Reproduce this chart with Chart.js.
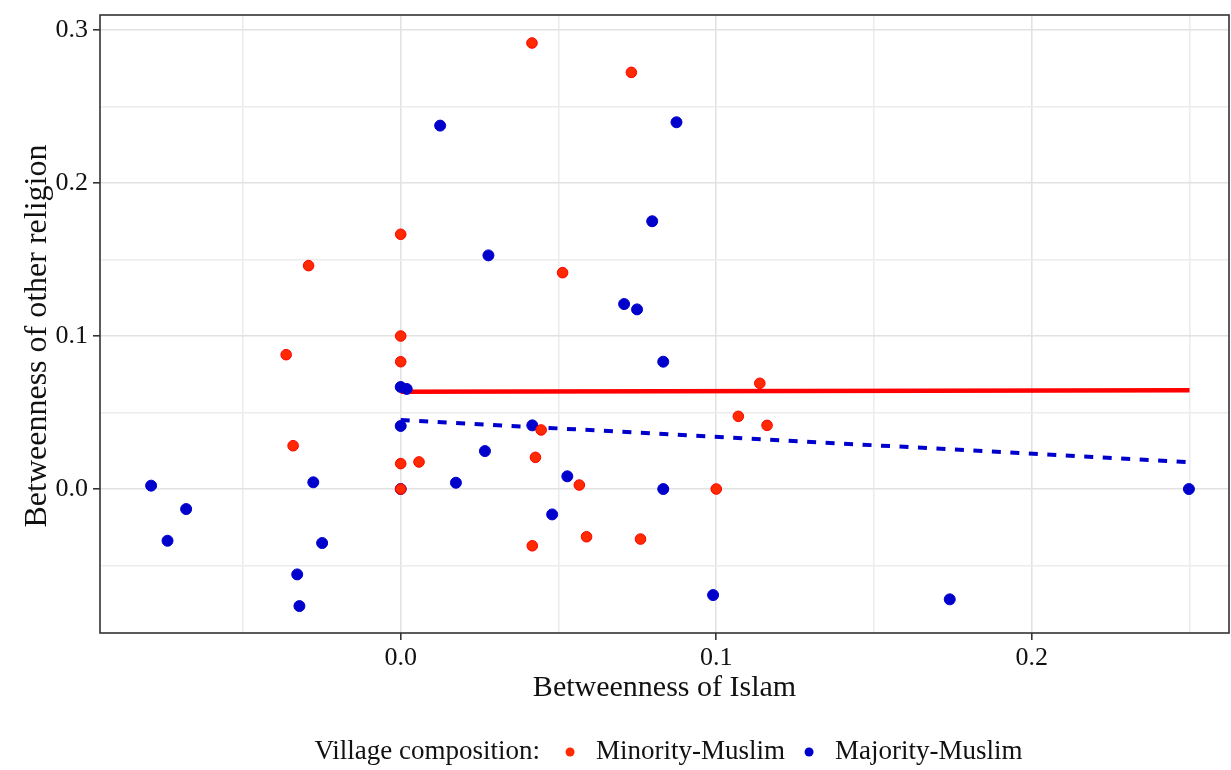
<!DOCTYPE html>
<html>
<head>
<meta charset="utf-8">
<title>Betweenness of Islam vs other religion</title>
<script src="https://cdn.jsdelivr.net/npm/chart.js@4.4.1/dist/chart.umd.min.js"></script>
<style>
  html, body { margin: 0; padding: 0; background: #fff; }
  #wrap { position: relative; width: 1231px; height: 770px; }
</style>
</head>
<body>
<div id="wrap"><canvas id="betwChart" width="1231" height="770"></canvas></div>
<script>
// ── Data ──────────────────────────────────────────────────
// Minority-Muslim villages
const minorityX = [0.0416, 0.0731, 0.0000, -0.0292, 0.0513, 0.0000, 0.0000, -0.0363, -0.0341, 0.0000,
                   0.0058, 0.0000, 0.0445, 0.0427, 0.0566, 0.0417, 0.0589, 0.0760, 0.1000, 0.1138,
                   0.1070, 0.1161];
const minorityY = [0.2915, 0.2723, 0.1665, 0.1460, 0.1414, 0.1000, 0.0832, 0.0878, 0.0283, 0.0166,
                   0.0177, 0.0000, 0.0386, 0.0207, 0.0026, -0.0371, -0.0312, -0.0327, 0.0000, 0.0691,
                   0.0475, 0.0416];

// Majority-Muslim villages
const majorityX = [0.0125, 0.0874, 0.0797, 0.0278, 0.0708, 0.0749, 0.0832, 0.0000, 0.0019, 0.0000,
                   0.0417, 0.0267, 0.0175, 0.0528, 0.0480, 0.0832, 0.0990, 0.1740, 0.2498, -0.0791,
                   -0.0680, -0.0739, -0.0277, -0.0249, -0.0328, -0.0321, 0.0000];
const majorityY = [0.2375, 0.2397, 0.1750, 0.1527, 0.1209, 0.1174, 0.0832, 0.0667, 0.0654, 0.0412,
                   0.0416, 0.0248, 0.0041, 0.0083, -0.0166, 0.0000, -0.0693, -0.0721, 0.0000, 0.0022,
                   -0.0131, -0.0338, 0.0044, -0.0353, -0.0558, -0.0765, 0.0000];

// fitted lines (endpoints)
const minorityFitX = [0, 0.25];
const minorityFitY = [0.0636, 0.0645];
const majorityFitX = [0, 0.25];
const majorityFitY = [0.0451, 0.0176];

// axis ticks: minor ones only carry a grid line
const xTickValues = [-0.05, 0, 0.05, 0.1, 0.15, 0.2, 0.25];
const xTickLabels = ['', '0.0', '', '0.1', '', '0.2', ''];
const yTickValues = [-0.05, 0, 0.05, 0.1, 0.15, 0.2, 0.25, 0.3];
const yTickLabels = ['', '0.0', '', '0.1', '', '0.2', '', '0.3'];

const yTitle = 'Betweenness of other religion';
const legendTitle = 'Village composition:';

// ── Helpers ───────────────────────────────────────────────
const SERIF = "'Liberation Serif', 'Times New Roman', serif";
const RED  = '#ff2a00';
const BLUE = '#0000cd';
const INK  = '#111';

const zip = (xs, ys) => xs.map((x, i) => ({ x, y: ys[i] }));

function gridColor(labels) {
  return ctx => labels[ctx.index] ? '#e2e2e2' : '#ececec';
}
function tickColor(labels) {
  return ctx => labels[ctx.index] ? '#333333' : 'rgba(0,0,0,0)';
}

// full panel box drawn over the data, like a framed plot
const panelBorder = {
  id: 'panelBorder',
  afterDatasetsDraw(chart) {
    const { ctx, chartArea: a } = chart;
    ctx.save();
    ctx.strokeStyle = '#333';
    ctx.lineWidth = 1.6;
    ctx.strokeRect(a.left, a.top, a.right - a.left, a.bottom - a.top);
    ctx.restore();
  }
};

// rotated y title, sitting a little below the panel centre
const yAxisTitle = {
  id: 'yAxisTitle',
  afterDraw(chart) {
    const { ctx, chartArea: a } = chart;
    ctx.save();
    ctx.translate(38, (a.top + a.bottom) / 2 + 12);
    ctx.rotate(-Math.PI / 2);
    ctx.font = '32px ' + SERIF;
    ctx.fillStyle = INK;
    ctx.textAlign = 'center';
    ctx.textBaseline = 'middle';
    ctx.fillText(yTitle, 0, 0);
    ctx.restore();
  }
};

// legend row under the x axis title: "title  ● label  ● label"
const bottomLegend = {
  id: 'bottomLegend',
  afterDraw(chart) {
    const { ctx, chartArea: a } = chart;
    const items = chart.data.datasets.filter(d => d.showInLegend);
    ctx.save();
    ctx.font = '27px ' + SERIF;
    ctx.textBaseline = 'middle';
    ctx.fillStyle = INK;
    const gapTitle = 30, dotToText = 26, textToDot = 24, r = 4.5;
    let total = ctx.measureText(legendTitle).width + gapTitle;
    items.forEach((d, i) => {
      total += dotToText + ctx.measureText(d.label).width + (i < items.length - 1 ? textToDot : 0);
    });
    let x = (a.left + a.right) / 2 + 4 - total / 2;
    const y = 752;
    ctx.fillText(legendTitle, x, y);
    x += ctx.measureText(legendTitle).width + gapTitle;
    items.forEach(d => {
      ctx.beginPath();
      ctx.arc(x, y, r, 0, Math.PI * 2);
      ctx.fillStyle = d.backgroundColor;
      ctx.fill();
      ctx.fillStyle = INK;
      ctx.fillText(d.label, x + dotToText, y);
      x += dotToText + ctx.measureText(d.label).width + textToDot;
    });
    ctx.restore();
  }
};

// ── Chart ─────────────────────────────────────────────────
const chart = new Chart(document.getElementById('betwChart'), {
  type: 'scatter',
  data: {
    datasets: [
      {
        label: 'Minority-Muslim', showInLegend: true, order: 1,
        data: zip(minorityX, minorityY),
        backgroundColor: RED, borderColor: '#ff0000', borderWidth: 1,
        pointRadius: 5.3, pointHoverRadius: 5.3
      },
      {
        label: 'Majority-Muslim', showInLegend: true, order: 2,
        data: zip(majorityX, majorityY),
        backgroundColor: BLUE, borderColor: BLUE, borderWidth: 1,
        pointRadius: 5.5, pointHoverRadius: 5.5
      },
      {
        type: 'line', label: 'Minority fit', order: 3,
        data: zip(minorityFitX, minorityFitY),
        borderColor: '#ff0000', borderWidth: 4.5, pointRadius: 0, fill: false
      },
      {
        type: 'line', label: 'Majority fit', order: 3,
        data: zip(majorityFitX, majorityFitY),
        borderColor: BLUE, borderWidth: 4, borderDash: [9, 9.5], pointRadius: 0, fill: false
      }
    ]
  },
  options: {
    responsive: false,
    animation: false,
    layout: { autoPadding: false, padding: { top: 15, right: 2, bottom: 52, left: 0 } },
    plugins: { legend: { display: false }, tooltip: { enabled: false } },
    scales: {
      x: {
        type: 'linear', min: -0.0953, max: 0.2625,
        afterBuildTicks: s => { s.ticks = xTickValues.map(v => ({ value: v })); },
        afterFit: s => { s.height = 85; s.paddingLeft = 0; s.paddingRight = 0; },
        border: { display: false },
        grid: { color: gridColor(xTickLabels), lineWidth: 1.6, tickLength: 7,
                tickColor: tickColor(xTickLabels), tickWidth: 1.6 },
        ticks: { callback: (v, i) => xTickLabels[i], maxRotation: 0, autoSkip: false,
                 padding: 3, color: INK, font: { family: SERIF, size: 26 } },
        title: { display: true, text: 'Betweenness of Islam', color: INK,
                 font: { family: SERIF, size: 30 }, padding: { top: 0, bottom: 12 } }
      },
      y: {
        type: 'linear', min: -0.0941, max: 0.3098,
        afterBuildTicks: s => { s.ticks = yTickValues.map(v => ({ value: v })); },
        afterFit: s => { s.width = 100; s.paddingTop = 0; s.paddingBottom = 0; },
        border: { display: false },
        grid: { color: gridColor(yTickLabels), lineWidth: 1.6, tickLength: 7,
                tickColor: tickColor(yTickLabels), tickWidth: 1.6 },
        ticks: { callback: (v, i) => yTickLabels[i], autoSkip: false,
                 padding: 5, color: INK, font: { family: SERIF, size: 26 } },
        title: { display: false }
      }
    }
  },
  plugins: [panelBorder, yAxisTitle, bottomLegend]
});
</script>
</body>
</html>
